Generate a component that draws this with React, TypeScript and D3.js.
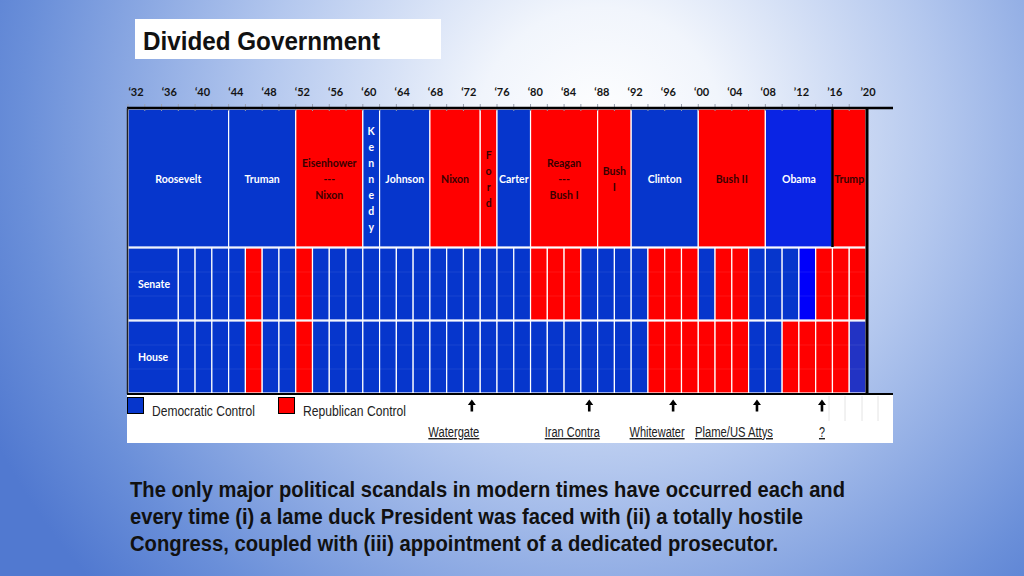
import React, { useEffect } from 'react';
import * as d3 from 'd3';

// Congress start years (each cell = one two-year Congress)
const congressStart = [
  1933, 1935, 1937, 1939, 1941, 1943, 1945, 1947, 1949, 1951, 1953, 1955, 1957, 1959, 1961,
  1963, 1965, 1967, 1969, 1971, 1973, 1975, 1977, 1979, 1981, 1983, 1985, 1987, 1989, 1991,
  1993, 1995, 1997, 1999, 2001, 2003, 2005, 2007, 2009, 2011, 2013, 2015, 2017, 2019,
];
const chartEndYear = 2021;

// Senate control per Congress (D = Democratic, R = Republican, Db = Democratic, brighter shade)
const senateControl = [
  'D', 'D', 'D', 'D', 'D', 'D', 'D', 'R', 'D', 'D', 'R', 'D', 'D', 'D', 'D',
  'D', 'D', 'D', 'D', 'D', 'D', 'D', 'D', 'D', 'R', 'R', 'R', 'D', 'D', 'D',
  'D', 'R', 'R', 'R', 'D', 'R', 'R', 'D', 'D', 'D', 'Db', 'R', 'R', 'R',
];
// House control per Congress (Dh = Democratic, other shade)
const houseControl = [
  'D', 'D', 'D', 'D', 'D', 'D', 'D', 'R', 'D', 'D', 'R', 'D', 'D', 'D', 'D',
  'D', 'D', 'D', 'D', 'D', 'D', 'D', 'D', 'D', 'D', 'D', 'D', 'D', 'D', 'D',
  'D', 'R', 'R', 'R', 'R', 'R', 'R', 'D', 'D', 'R', 'R', 'R', 'R', 'Dh',
];

// Presidents
const presNames = [
  'Roosevelt', 'Truman', 'Eisenhower\n---\nNixon', 'Kennedy', 'Johnson', 'Nixon', 'Ford',
  'Carter', 'Reagan\n---\nBush I', 'Bush\nI', 'Clinton', 'Bush II', 'Obama', 'Trump',
];
const presParty = ['D', 'D', 'R', 'D', 'D', 'R', 'R', 'D', 'R', 'R', 'D', 'R', 'Do', 'R'];
const presStart = [1933, 1945, 1953, 1961, 1963, 1969, 1975, 1977, 1981, 1989, 1993, 2001, 2009, 2017];
const presEnd = [1945, 1953, 1961, 1963, 1969, 1975, 1977, 1981, 1989, 1993, 2001, 2009, 2017, 2021];

// Top year labels
const yearLabels = [
  '‘32', '‘36', '‘40', '‘44', '‘48', '‘52', '‘56', '‘60', '‘64', '‘68', '‘72', '‘76',
  '‘80', '‘84', '‘88', '‘92', '‘96', '‘00', '‘04', '‘08', '’12', '’16', '’20',
];

// Scandals
const scandalNames = ['Watergate', 'Iran Contra', 'Whitewater', 'Plame/US Attys', '?'];
const scandalYears = [1974, 1988, 1998, 2008, 2015.75];

const legendItems = ['Democratic Control', 'Republican Control'];

const titleText = 'Divided Government';
const bodyLines = [
  'The only major political scandals in modern times have occurred each and',
  'every time (i) a lame duck President was faced with (ii) a totally hostile',
  'Congress, coupled with (iii) appointment of a dedicated prosecutor.',
];

const fillFor: Record<string, string> = {
  D: '#0636cc',
  Db: '#0000fa',
  Dh: '#2233c4',
  Do: '#0a24e4',
  R: '#ff0000',
};

const sans = "'Liberation Sans', Arial, sans-serif";
const calib = "Lato, 'Open Sans', 'DejaVu Sans', sans-serif";

export default function App() {
  useEffect(() => {
    document.body.style.margin = '0';
  }, []);

  const W = 1024;
  const H = 576;
  const x = d3.scaleLinear().domain([congressStart[0], chartEndYear]).range([128, 866]);
  const yearX = d3.scalePoint<string>().domain(yearLabels).range([136, 868]);
  const rowY = d3
    .scaleOrdinal<string, [number, number]>()
    .domain(['pres', 'senate', 'house'])
    .range([
      [109, 247],
      [248, 320],
      [321, 393],
    ]);

  const [pTop, pBot] = rowY('pres');
  const labelMerge = 3; // first three cells merged as row-label cell
  const labelCenterY = 179;
  const lineGap = 16;

  const chamber = (key: 'senate' | 'house', control: string[], label: string) => {
    const [t, b] = rowY(key);
    const cells: JSX.Element[] = [];
    cells.push(
      <rect
        key={key + '-lab'}
        x={x(congressStart[0])}
        y={t}
        width={x(congressStart[labelMerge]) - x(congressStart[0])}
        height={b - t}
        fill={fillFor[control[0]]}
        stroke="#ffffff"
        strokeWidth={1.2}
      />
    );
    congressStart.forEach((yr, i) => {
      if (i < labelMerge) return;
      const x0 = x(yr);
      const x1 = i + 1 < congressStart.length ? x(congressStart[i + 1]) : x(chartEndYear);
      cells.push(
        <rect
          key={key + i}
          x={x0}
          y={t}
          width={x1 - x0}
          height={b - t}
          fill={fillFor[control[i]]}
          stroke="#ffffff"
          strokeWidth={1.2}
        />
      );
    });
    const thirds = [1, 2].map((k) => t + ((b - t) * k) / 3);
    return (
      <g key={key}>
        {cells}
        {thirds.map((yy, k) => (
          <line key={k} x1={x(congressStart[0])} x2={x(chartEndYear)} y1={yy} y2={yy} stroke="#ffffff" strokeOpacity={0.08} />
        ))}
        <text x={138} y={(t + b) / 2 + 4} fill="#ffffff" fontFamily={calib} fontWeight={700} fontSize={10.5}>
          {label}
        </text>
      </g>
    );
  };

  const scandalDx = [-18, -17, -16, -23, 0];
  const scandalW = [51, 55, 55, 78, 6];
  const legendW = [103, 103];
  const bodyW = [715, 673, 648];

  return (
    <svg width={W} height={H} viewBox={`0 0 ${W} ${H}`} style={{ position: 'absolute', top: 0, left: 0, display: 'block' }}>
      <defs>
        <radialGradient id="bg" gradientUnits="userSpaceOnUse" cx={600} cy={130} r={680} fx={600} fy={130}>
          <stop offset="0" stopColor="#ffffff" />
          <stop offset="0.18" stopColor="#f1f5fc" />
          <stop offset="0.5" stopColor="#b3c7ee" />
          <stop offset="0.85" stopColor="#6a8fd9" />
          <stop offset="1" stopColor="#5179d0" />
        </radialGradient>
      </defs>
      <rect x={0} y={0} width={W} height={H} fill="url(#bg)" />

      {/* Title */}
      <rect x={135} y={19} width={306} height={40} fill="#ffffff" />
      <text
        x={143}
        y={50}
        fontFamily={sans}
        fontWeight={700}
        fontSize={25}
        fill="#111111"
        textLength={237}
        lengthAdjust="spacingAndGlyphs"
      >
        {titleText}
      </text>

      {/* Year labels */}
      {yearLabels.map((lab) => (
        <text key={lab} x={yearX(lab)} y={96} textAnchor="middle" fontFamily={calib} fontWeight={700} fontSize={11} fill="#141414">
          {lab}
        </text>
      ))}

      {/* Presidents */}
      {presNames.map((name, i) => {
        const x0 = x(presStart[i]);
        const x1 = x(presEnd[i]);
        const w = x1 - x0;
        const isDem = presParty[i] !== 'R';
        const textFill = isDem ? '#ffffff' : '#3a0000';
        const lines = w < 20 ? name.split('') : name.split('\n');
        const cx = (x0 + x1) / 2;
        return (
          <g key={name + i}>
            <rect x={x0} y={pTop} width={w} height={pBot - pTop} fill={fillFor[presParty[i]]} stroke="#ffffff" strokeWidth={1.2} />
            {lines.map((ln, k) => (
              <text
                key={k}
                x={cx}
                y={labelCenterY + (k - (lines.length - 1) / 2) * lineGap + 4}
                textAnchor="middle"
                fontFamily={calib}
                fontWeight={700}
                fontSize={10.5}
                fill={textFill}
              >
                {ln}
              </text>
            ))}
          </g>
        );
      })}

      {chamber('senate', senateControl, 'Senate')}
      {chamber('house', houseControl, 'House')}

      {/* Legend / scandal area */}
      <rect x={127} y={394} width={766} height={49} fill="#ffffff" />
      {[829, 845, 862, 878].map((gx) => (
        <line key={gx} x1={gx} x2={gx} y1={396} y2={421} stroke="#e4e4e4" strokeWidth={1} />
      ))}
      {legendItems.map((lab, i) => {
        const lx = i === 0 ? 127.5 : 278.5;
        return (
          <g key={lab}>
            <rect x={lx} y={397.5} width={16} height={16} fill={fillFor[i === 0 ? 'D' : 'R']} stroke="#000000" strokeWidth={1} />
            <text
              x={lx + 24.5}
              y={416}
              fontFamily={sans}
              fontSize={14}
              fill="#222222"
              textLength={legendW[i]}
              lengthAdjust="spacingAndGlyphs"
            >
              {lab}
            </text>
          </g>
        );
      })}
      {scandalNames.map((nm, i) => {
        const ax = x(scandalYears[i]);
        return (
          <g key={nm}>
            <path
              d={`M${ax},399.5 L${ax - 4},405 L${ax - 1.3},405 L${ax - 1.3},411.5 L${ax + 1.3},411.5 L${ax + 1.3},405 L${ax + 4},405 Z`}
              fill="#000000"
            />
            <text
              x={ax + scandalDx[i] - scandalW[i] / 2}
              y={437}
              fontFamily={sans}
              fontSize={14}
              fill="#222222"
              textLength={scandalW[i]}
              lengthAdjust="spacingAndGlyphs"
              style={{ textDecoration: 'underline' }}
            >
              {nm}
            </text>
          </g>
        );
      })}

      {/* Frame lines */}
      {congressStart.map((yr) => (
        <line key={'t' + yr} x1={x(yr)} x2={x(yr)} y1={104} y2={111} stroke="#9aa0b0" strokeWidth={1} />
      ))}
      <line x1={127} x2={893} y1={108} y2={108} stroke="#000000" strokeWidth={2.5} />
      <line x1={127.5} x2={127.5} y1={108} y2={394} stroke="#222222" strokeWidth={1.5} />
      <line x1={127} x2={893} y1={394} y2={394} stroke="#000000" strokeWidth={2} />
      <line x1={x(presStart[13])} x2={x(presStart[13])} y1={108} y2={pBot} stroke="#000000" strokeWidth={2.5} />
      <line x1={x(chartEndYear) + 1} x2={x(chartEndYear) + 1} y1={108} y2={394} stroke="#000000" strokeWidth={3} />

      {/* Body text */}
      {bodyLines.map((ln, i) => (
        <text
          key={i}
          x={130}
          y={497 + i * 27}
          fontFamily={sans}
          fontWeight={700}
          fontSize={21.5}
          fill="#111111"
          textLength={bodyW[i]}
          lengthAdjust="spacingAndGlyphs"
        >
          {ln}
        </text>
      ))}
    </svg>
  );
}
